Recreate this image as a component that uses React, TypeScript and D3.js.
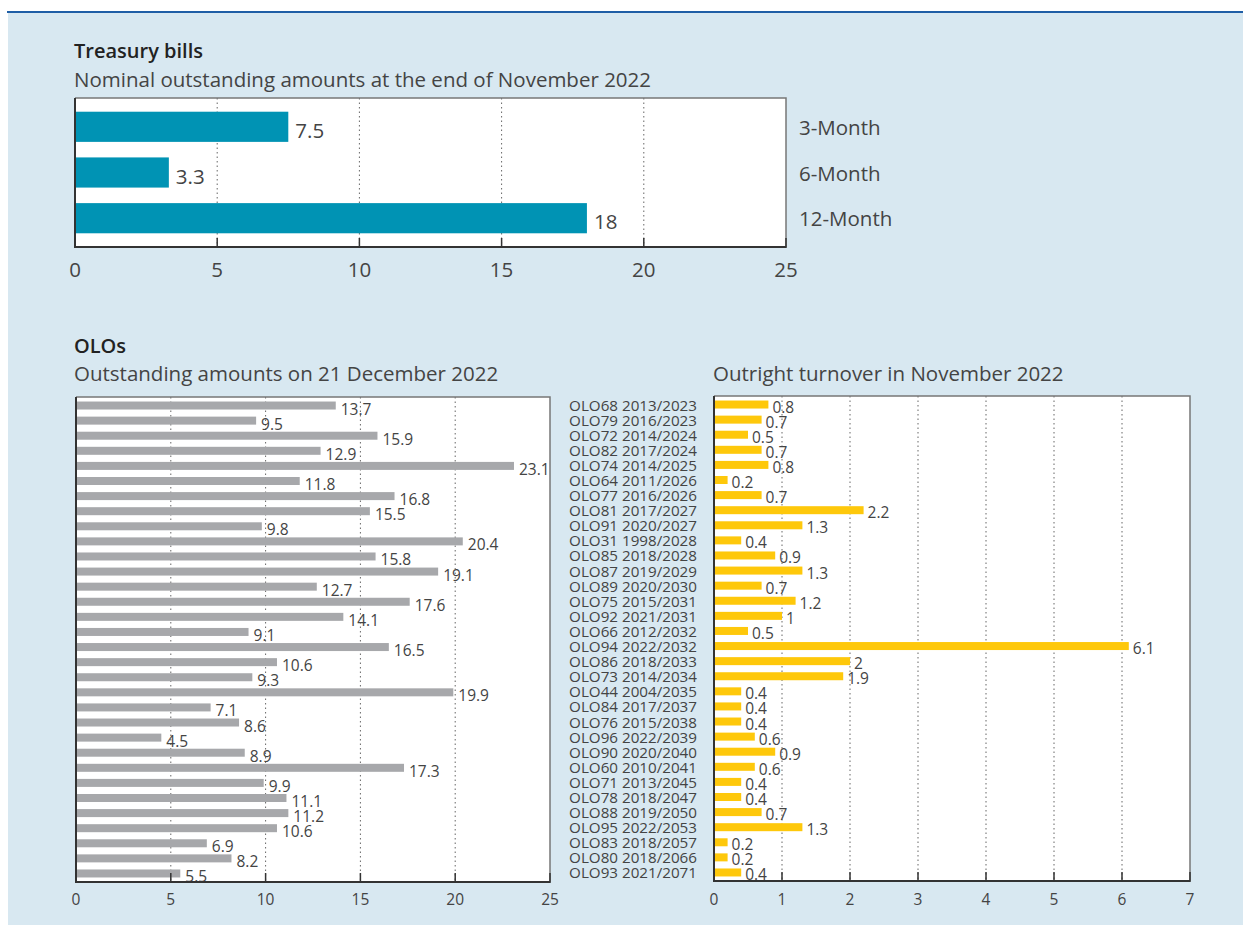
import React, { useEffect, useRef } from 'react';
import * as d3 from 'd3';

const tbillCategories = ['3-Month', '6-Month', '12-Month'];
const tbillValues = [7.5, 3.3, 18];
const tbillTicks = [0, 5, 10, 15, 20, 25];

const oloNames = [
  'OLO68 2013/2023', 'OLO79 2016/2023', 'OLO72 2014/2024', 'OLO82 2017/2024',
  'OLO74 2014/2025', 'OLO64 2011/2026', 'OLO77 2016/2026', 'OLO81 2017/2027',
  'OLO91 2020/2027', 'OLO31 1998/2028', 'OLO85 2018/2028', 'OLO87 2019/2029',
  'OLO89 2020/2030', 'OLO75 2015/2031', 'OLO92 2021/2031', 'OLO66 2012/2032',
  'OLO94 2022/2032', 'OLO86 2018/2033', 'OLO73 2014/2034', 'OLO44 2004/2035',
  'OLO84 2017/2037', 'OLO76 2015/2038', 'OLO96 2022/2039', 'OLO90 2020/2040',
  'OLO60 2010/2041', 'OLO71 2013/2045', 'OLO78 2018/2047', 'OLO88 2019/2050',
  'OLO95 2022/2053', 'OLO83 2018/2057', 'OLO80 2018/2066', 'OLO93 2021/2071',
];
const oloOutstanding = [
  13.7, 9.5, 15.9, 12.9, 23.1, 11.8, 16.8, 15.5, 9.8, 20.4, 15.8, 19.1, 12.7, 17.6, 14.1, 9.1,
  16.5, 10.6, 9.3, 19.9, 7.1, 8.6, 4.5, 8.9, 17.3, 9.9, 11.1, 11.2, 10.6, 6.9, 8.2, 5.5,
];
const oloTurnover = [
  0.8, 0.7, 0.5, 0.7, 0.8, 0.2, 0.7, 2.2, 1.3, 0.4, 0.9, 1.3, 0.7, 1.2, 1, 0.5,
  6.1, 2, 1.9, 0.4, 0.4, 0.4, 0.6, 0.9, 0.6, 0.4, 0.4, 0.7, 1.3, 0.2, 0.2, 0.4,
];
const outstandingTicks = [0, 5, 10, 15, 20, 25];
const turnoverTicks = [0, 1, 2, 3, 4, 5, 6, 7];

const FONT = '"Open Sans", "Noto Sans", sans-serif';

type PanelOpts = {
  x0: number; x1: number; y0: number; y1: number;
  max: number; ticks: number[];
  cats: string[]; values: number[];
  color: string; fontSize: number; labelGap: number; labelDy: number;
  padInner: number; padOuter: number; tickLabelY: number;
};

const App: React.FC = () => {
  const ref = useRef<SVGSVGElement | null>(null);

  useEffect(() => {
    if (!ref.current) return;
    const svg = d3.select(ref.current);
    svg.selectAll('*').remove();

    svg.append('rect').attr('width', 1243).attr('height', 925).attr('fill', '#ffffff');
    svg.append('rect').attr('x', 8).attr('y', 12).attr('width', 1235).attr('height', 913).attr('fill', '#d8e8f1');
    svg.append('line').attr('x1', 7).attr('x2', 1243).attr('y1', 12).attr('y2', 12)
      .attr('stroke', '#1f5ea6').attr('stroke-width', 2);

    const text = (x: number, y: number, s: string, size: number, weight = 'normal', fill = '#444') =>
      svg.append('text').attr('x', x).attr('y', y).text(s)
        .attr('font-family', FONT).attr('font-size', size).attr('font-weight', weight).attr('fill', fill);

    text(74, 58, 'Treasury bills', 20, '600', '#222');
    text(74, 87, 'Nominal outstanding amounts at the end of November 2022', 20.5);
    text(74, 353, 'OLOs', 20, '600', '#222');
    text(74, 381, 'Outstanding amounts on 21 December 2022', 20.5);
    text(713, 381, 'Outright turnover in November 2022', 20.5);

    const panel = (o: PanelOpts) => {
      const g = svg.append('g');
      const x = d3.scaleLinear().domain([0, o.max]).range([o.x0, o.x1]);
      const y = d3.scaleBand<string>().domain(o.cats).range([o.y0, o.y1])
        .paddingInner(o.padInner).paddingOuter(o.padOuter);

      g.append('rect').attr('x', o.x0).attr('y', o.y0)
        .attr('width', o.x1 - o.x0).attr('height', o.y1 - o.y0).attr('fill', '#ffffff');

      g.selectAll('.grid').data(o.ticks.filter(t => t > 0 && t < o.max)).enter().append('line')
        .attr('x1', d => x(d)).attr('x2', d => x(d)).attr('y1', o.y0).attr('y2', o.y1)
        .attr('stroke', '#666').attr('stroke-width', 1).attr('stroke-dasharray', '1.5,3');

      g.selectAll('.bar').data(o.values).enter().append('rect')
        .attr('x', x(0)).attr('y', (_, i) => y(o.cats[i])!)
        .attr('width', d => x(d) - x(0)).attr('height', y.bandwidth())
        .attr('fill', o.color);

      g.selectAll('.val').data(o.values).enter().append('text')
        .attr('x', d => x(d) + o.labelGap)
        .attr('y', (_, i) => y(o.cats[i])! + y.bandwidth() / 2 + o.labelDy)
        .attr('dominant-baseline', 'central')
        .attr('font-family', FONT).attr('font-size', o.fontSize).attr('fill', '#444')
        .text(d => String(d));

      // frame: light top/right, dark left/bottom
      g.append('path').attr('d', `M${o.x0},${o.y0}H${o.x1}V${o.y1}`)
        .attr('fill', 'none').attr('stroke', '#777').attr('stroke-width', 1.5);
      g.append('path').attr('d', `M${o.x0},${o.y0}V${o.y1}H${o.x1}`)
        .attr('fill', 'none').attr('stroke', '#333').attr('stroke-width', 2);

      g.selectAll('.tick').data(o.ticks).enter().append('line')
        .attr('x1', d => x(d)).attr('x2', d => x(d)).attr('y1', o.y1 - 9).attr('y2', o.y1 + 1)
        .attr('stroke', '#333').attr('stroke-width', 1.5);

      g.selectAll('.tl').data(o.ticks).enter().append('text')
        .attr('x', d => x(d)).attr('y', o.tickLabelY).attr('text-anchor', 'middle')
        .attr('font-family', FONT).attr('font-size', o.fontSize).attr('fill', '#444')
        .text(d => String(d));

      return y;
    };

    const yT = panel({
      x0: 75, x1: 786, y0: 98, y1: 247, max: 25, ticks: tbillTicks,
      cats: tbillCategories, values: tbillValues, color: '#0093b4',
      fontSize: 20.5, labelGap: 7, labelDy: 3, padInner: 0.34, padOuter: 0.3, tickLabelY: 277,
    });
    svg.selectAll('.cat').data(tbillCategories).enter().append('text')
      .attr('x', 799).attr('y', d => yT(d)! + yT.bandwidth() / 2)
      .attr('dominant-baseline', 'central')
      .attr('font-family', FONT).attr('font-size', 20.5).attr('fill', '#444')
      .text(d => d);

    panel({
      x0: 76, x1: 550, y0: 397, y1: 882, max: 25, ticks: outstandingTicks,
      cats: oloNames, values: oloOutstanding, color: '#a7a8ab',
      fontSize: 15.5, labelGap: 5, labelDy: 3, padInner: 0.47, padOuter: 0.3, tickLabelY: 905,
    });

    const yO = panel({
      x0: 714, x1: 1190, y0: 396, y1: 881, max: 7, ticks: turnoverTicks,
      cats: oloNames, values: oloTurnover, color: '#fec80b',
      fontSize: 15.5, labelGap: 4, labelDy: 2, padInner: 0.47, padOuter: 0.3, tickLabelY: 905,
    });
    svg.selectAll('.olo').data(oloNames).enter().append('text')
      .attr('x', 697).attr('y', d => yO(d)! + yO.bandwidth() / 2)
      .attr('text-anchor', 'end').attr('dominant-baseline', 'central')
      .attr('font-family', FONT).attr('font-size', 15.2).attr('fill', '#444')
      .text(d => d);
  }, []);

  return (
    <svg ref={ref} width="1243" height="925" style={{ position: 'absolute', left: 0, top: 0 }}></svg>
  );
};

export default App;
